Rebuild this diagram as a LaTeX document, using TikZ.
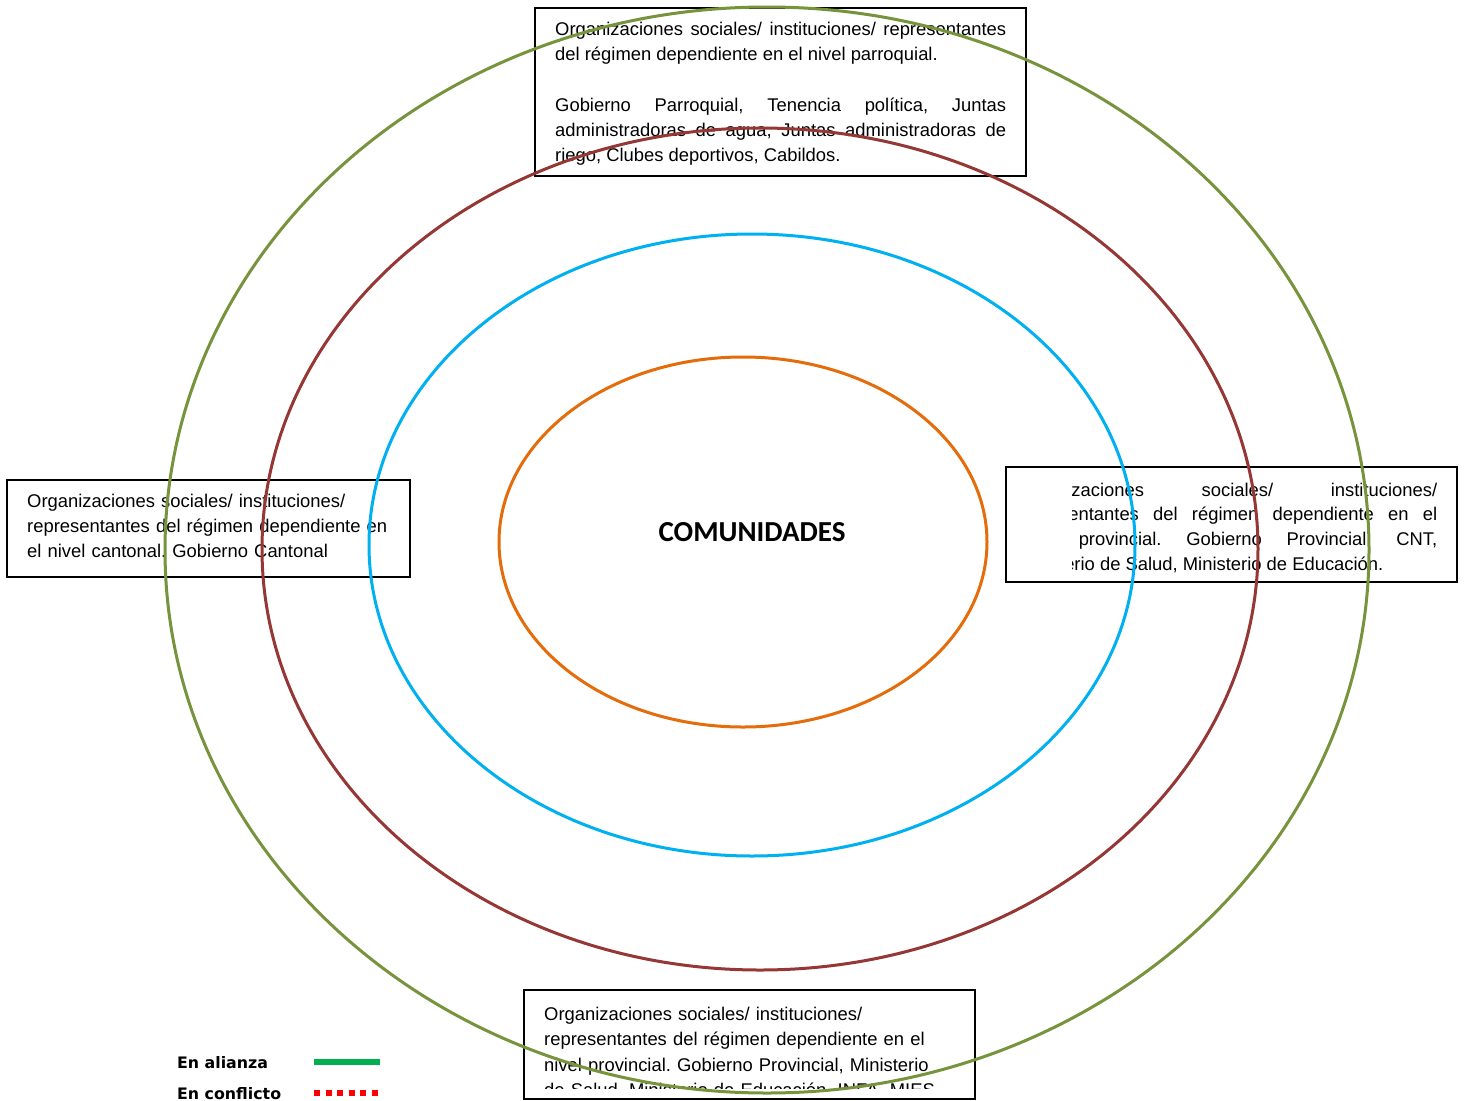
\documentclass[tikz,border=0pt]{standalone}
\usepackage{fontspec}
\setmainfont{Liberation Sans}
\newfontfamily\carlito{Carlito}
\newfontfamily\dejavu{DejaVu Sans}
\definecolor{ringgreen}{HTML}{77933C}
\definecolor{ringred}{HTML}{953735}
\definecolor{ringblue}{HTML}{00B0F0}
\definecolor{ringorange}{HTML}{E46C0A}
\definecolor{leggreen}{HTML}{00B050}
\definecolor{legred}{HTML}{FF0000}
\frenchspacing
\begin{document}
\begin{tikzpicture}[x=1pt,y=-1pt,
  boxline/.style={draw=black, line width=1.5pt},
  txt/.style={inner sep=0pt, anchor=base west, font=\fontsize{18.4}{25}\selectfont},
  ring/.style={line width=3pt},
  legtxt/.style={inner sep=0pt, anchor=base west, font=\dejavu\bfseries\fontsize{15.8}{19}\selectfont}]
\useasboundingbox (0,0) rectangle (1468,1101);
\fill[white] (0,0) rectangle (1468,1101);

% boxes
\draw[boxline] (535,8) rectangle (1026,176);
\draw[boxline] (7,480) rectangle (410,577);
\draw[boxline] (1006,467) rectangle (1457,582);
\draw[boxline] (524,990) rectangle (975,1099);

% top text
\node[txt, text width=451pt, align=justify] (toptxt) at (555,35)
{Organizaciones sociales/ instituciones/ representantes\linebreak
del régimen dependiente en el nivel parroquial.\par\vspace{26pt}
Gobierno Parroquial, Tenencia política, Juntas\linebreak
administradoras de agua, Juntas administradoras de\linebreak
riego, Clubes deportivos, Cabildos.};

% left text
\node[txt, text width=400pt, align=left] (lefttxt) at (27,507)
{Organizaciones sociales/ instituciones/\\
representantes del régimen dependiente en\\
el nivel cantonal. Gobierno Cantonal};

% right text (clipped)
\begin{scope}
\clip (1072,467) rectangle (1457,582);
\node[txt, text width=421pt, align=justify, font=\fontsize{18.4}{24.7}\selectfont] (righttxt) at (1016,496)
{Organizaciones sociales/ instituciones/\linebreak
representantes del régimen dependiente en el\linebreak
nivel provincial. Gobierno Provincial, CNT,\linebreak
Ministerio de Salud, Ministerio de Educación.};
\end{scope}

% bottom text (clipped)
\begin{scope}
\clip (524,990) rectangle (975,1088);
\node[txt, text width=420pt, align=left, font=\fontsize{18.4}{25.5}\selectfont] (bottomtxt) at (544,1020)
{Organizaciones sociales/ instituciones/\\
representantes del régimen dependiente en el\\
nivel provincial. Gobierno Provincial, Ministerio\\
de Salud, Ministerio de Educación, INFA, MIES};
\end{scope}

% rings
\draw[ring, ringgreen] (767,550) ellipse [x radius=602, y radius=543];
\draw[ring, ringred] (760,549) ellipse [x radius=498, y radius=421];
\draw[ring, ringblue] (752,545) ellipse [x radius=383, y radius=311];
\draw[ring, ringorange] (743,542) ellipse [x radius=244, y radius=185];

\node[inner sep=0pt, anchor=base, font=\carlito\bfseries\fontsize{29}{34}\selectfont] (comunidades) at (752,541) {COMUNIDADES};

% legend
\node[legtxt] (legalianza) at (177,1068) {En alianza};
\node[legtxt] (legconflicto) at (177,1099) {En conflicto};
\coordinate (ga) at (314,1062);
\coordinate (gb) at (380,1062);
\coordinate (ra) at (314,1093);
\coordinate (rb) at (380,1093);
\draw[line width=6pt, leggreen] (ga) -- (gb);
\draw[line width=6pt, legred, dash pattern=on 6pt off 5.6pt] (ra) -- (rb);
\end{tikzpicture}
\end{document}
